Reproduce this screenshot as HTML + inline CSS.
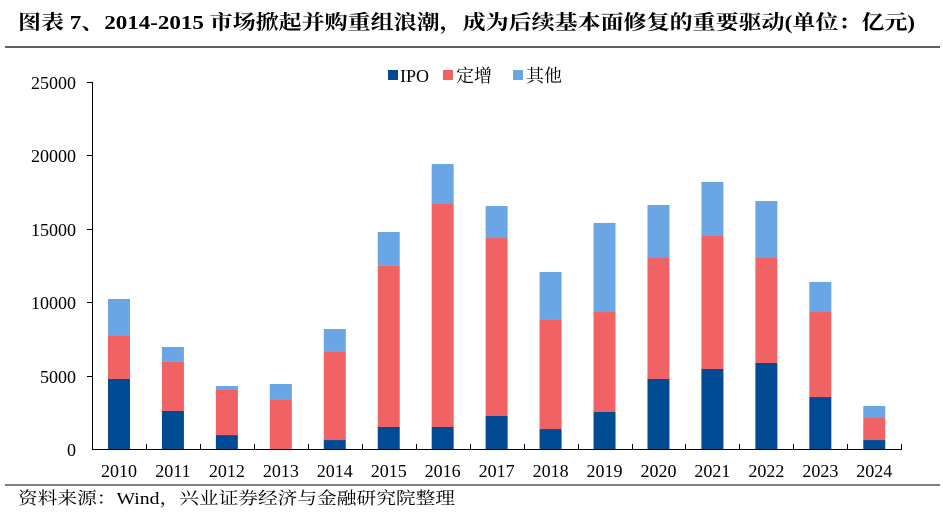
<!DOCTYPE html>
<html><head><meta charset="utf-8"><style>
body{margin:0;background:#fff;width:943px;height:511px;overflow:hidden;}
</style></head><body>
<svg width="943" height="511" xmlns="http://www.w3.org/2000/svg" font-family="'Liberation Serif','Noto Serif CJK SC',serif">
<text x="18" y="29" font-size="20" font-weight="bold" fill="#000" textLength="897" lengthAdjust="spacingAndGlyphs">图表 7、2014-2015 市场掀起并购重组浪潮，成为后续基本面修复的重要驱动(单位：亿元)</text>
<line x1="5" y1="47" x2="940" y2="47" stroke="#000" stroke-width="1.2"/>
<line x1="5" y1="485" x2="940" y2="485" stroke="#000" stroke-width="1"/>
<text x="18" y="504" font-size="17" fill="#000" textLength="437" lengthAdjust="spacingAndGlyphs">资料来源：Wind，兴业证券经济与金融研究院整理</text>
<g font-size="18" fill="#000" text-anchor="end">
<text x="76" y="456">0</text><text x="76" y="383">5000</text><text x="76" y="309">10000</text><text x="76" y="236">15000</text><text x="76" y="162">20000</text><text x="76" y="89">25000</text>
</g>
<g stroke="#000" stroke-width="1">
<line x1="92.5" y1="82" x2="92.5" y2="449"/>
<line x1="92" y1="449.5" x2="902" y2="449.5"/>
<line x1="87" y1="82.5" x2="92" y2="82.5"/><line x1="87" y1="155.5" x2="92" y2="155.5"/><line x1="87" y1="229.5" x2="92" y2="229.5"/><line x1="87" y1="302.5" x2="92" y2="302.5"/><line x1="87" y1="376.5" x2="92" y2="376.5"/>
</g>
<g id="bars"></g>
<g stroke="#000" id="ticks"></g>
<g font-size="18" text-anchor="middle" id="xl"></g>
<g font-size="18">
<rect x="388" y="70" width="10" height="10" fill="#004B93"/><text x="400" y="82">IPO</text>
<rect x="443" y="70" width="10" height="10" fill="#F06263"/><text x="456" y="82" textLength="36" lengthAdjust="spacingAndGlyphs">定增</text>
<rect x="513" y="70" width="10" height="10" fill="#6AA5E5"/><text x="526" y="82" textLength="36" lengthAdjust="spacingAndGlyphs">其他</text>
</g>
<script>
var d=[[4770,7700,10220],[2590,5930,6950],[950,4020,4290],[0,3340,4430],[610,6610,8170],[1500,12470,14780],[1500,16690,19410],[2250,14370,16550],[1360,8790,12060],[2520,9330,15400],[4770,13010,16620],[5450,14510,18190],[5860,13010,16890],[3540,9330,11380],[610,2110,2930]];
var ns="http://www.w3.org/2000/svg",b=document.getElementById("bars"),t=document.getElementById("ticks"),xl=document.getElementById("xl");
function Y(v){return 449-v*0.01468;}
var sp=53.95,cols=["#004B93","#F06263","#6AA5E5"];
d.forEach(function(r,i){var cx=92+sp*(i+0.5),prev=0;
r.forEach(function(v,k){if(v>prev){var e=document.createElementNS(ns,"rect");e.setAttribute("x",cx-11);e.setAttribute("width",22);e.setAttribute("y",Y(v));e.setAttribute("height",Y(prev)-Y(v));e.setAttribute("fill",cols[k]);b.appendChild(e);}prev=v;});
var l=document.createElementNS(ns,"line"),tx=Math.round(92+sp*(i+1))+0.5;l.setAttribute("x1",tx);l.setAttribute("x2",tx);l.setAttribute("y1",444);l.setAttribute("y2",449);t.appendChild(l);
var tt=document.createElementNS(ns,"text");tt.setAttribute("x",cx);tt.setAttribute("y",477);tt.textContent=2010+i;xl.appendChild(tt);});
</script>
</svg>
</body></html>
